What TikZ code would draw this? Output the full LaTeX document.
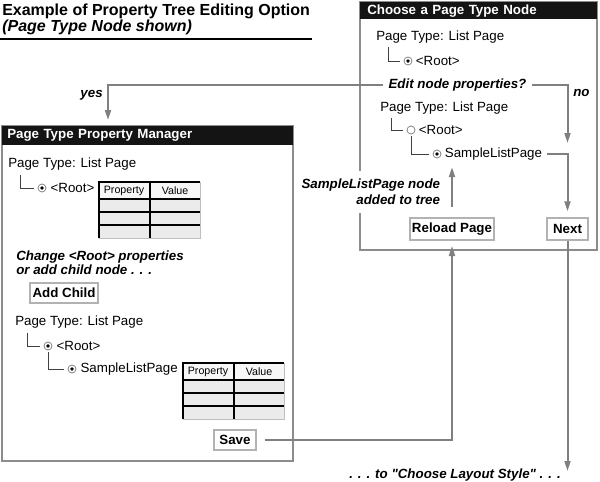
\documentclass[tikz,border=0pt]{standalone}
\usepackage{fontspec}
\setmainfont{Liberation Sans}
\usetikzlibrary{arrows.meta,positioning,calc}
\tikzstyle{panel} = [draw=black!45, line width=1.1pt]
\tikzstyle{header} = [rectangle, fill=black!92, text=white, font=\bfseries, anchor=north west, align=left, inner ysep=0pt]
\tikzstyle{txt} = [inner sep=0pt, anchor=base west]
\tikzstyle{note} = [inner sep=0pt, font=\bfseries\itshape]
\tikzstyle{button} = [rectangle, draw=black!30, line width=1pt, fill=white, font=\bfseries, inner sep=0pt]
\tikzstyle{radio} = [circle, draw=black!55, fill=white, line width=0.5pt, minimum size=6pt, inner sep=0pt]
\tikzstyle{radioon} = [radio, path picture={\fill[black] (path picture bounding box.center) circle (1.4pt);}]
\tikzstyle{tree} = [draw=black!75, line width=0.6pt, shorten >=3pt]
\tikzstyle{arrow} = [draw=black!50, line width=1.5pt, ->]
\tikzstyle{cell} = [draw=black!25, line width=0.5pt]
\tikzstyle{celltext} = [inner sep=0pt, font=\fontsize{8}{8}\selectfont]

\newcommand{\proptable}[2]{%
  \begin{scope}[shift={#2}]
    \foreach \ry/\rh/\rf in {0/17/3,17/13/8,30/13/8,43/13/8} {
      \foreach \cx in {0,51} {
        \filldraw[cell, fill=black!\rf] (\cx,\ry) rectangle ++(50,\rh);
        \draw[line width=1.2pt] (\cx,\ry+\rh) |- (\cx+50,\ry);
      }
    }
    \node (#1prop) [celltext] at (25,9) {Property};
    \node (#1val) [celltext] at (76,9) {Value};
  \end{scope}}

\begin{document}
\begin{tikzpicture}[x=0.75pt, y=-0.75pt, >={Triangle[width=4.5pt,length=7.5pt]}]
        \useasboundingbox (0,0) rectangle (600,482);

        % Titulo
        \node (title) [txt, font=\fontsize{12}{12}\selectfont\bfseries] at (2,15) {Example of Property Tree Editing Option};
        \node (subtitle) [txt, font=\fontsize{12}{12}\selectfont\bfseries\itshape] at (2,31) {(Page Type Node shown)};
        \draw[line width=1.5pt] (0,39) -- (312,39);

        % Choose a Page Type Node
        \draw[panel] (360,2) rectangle (597,250);
        \node (choosehead) [header, text width=167.25pt, inner xsep=5.25pt, minimum height=12.75pt] at (360,2) {Choose a Page Type Node};
        \node (ptype1) [txt] at (376,40) {Page Type: List Page};
        \node (root1) [radioon] at (408,61) {};
        \node (root1txt) [txt, right=2.5pt of root1] {<Root>};
        \draw[tree] ([shift={(12,7)}]ptype1.base west) |- (root1.west);
        \node (editq) [note, anchor=base west, inner xsep=4pt] at (383,88) {Edit node properties?};
        \node (nolbl) [note, anchor=base west] at (573,96) {no};
        \node (ptype2) [txt] at (380,111) {Page Type: List Page};
        \node (root2) [radio] at (411,130) {};
        \node (root2txt) [txt, right=2.5pt of root2] {<Root>};
        \draw[tree] ([shift={(11,7)}]ptype2.base west) |- (root2.west);
        \node (sample1r) [radioon] at (437,154) {};
        \node (sample1) [txt, right=2.5pt of sample1r] {SampleListPage};
        \draw[tree, shorten <=1.5pt] (root2.south) |- (sample1r.west);
        \node (added) [note, anchor=north east, align=right, fill=white, inner xsep=2pt, inner ysep=6pt,
            font=\fontsize{10}{12}\selectfont\bfseries\itshape] at (443,171) {SampleListPage node\\added to tree};
        \node (reloadbtn) [button, minimum width=63pt, minimum height=16.5pt] at (452,229) {Reload Page};
        \node (nextbtn) [button, minimum width=30.75pt, minimum height=16.5pt] at (567.5,229) {Next};

        % Page Type Property Manager
        \draw[panel] (2,126) rectangle (293,461);
        \node (mgrhead) [header, text width=210.75pt, inner xsep=3.75pt, minimum height=14.25pt] at (2,126) {Page Type Property Manager};
        \node (yeslbl) [note, anchor=base east] at (103,97) {yes};
        \node (ptype3) [txt] at (8,167) {Page Type: List Page};
        \node (root3) [radioon] at (42,188) {};
        \node (root3txt) [txt, right=3pt of root3] {<Root>};
        \draw[tree] ([shift={(12,8)}]ptype3.base west) |- (root3.west);
        \proptable{tablea}{(99,182)}
        \node (change) [note, anchor=north west, align=left, font=\fontsize{10}{10.5}\selectfont\bfseries\itshape] at (16,251) {Change <Root> properties\\or add child node . . .};
        \node (addchild) [button, minimum width=51pt, minimum height=15pt] at (64,293) {Add Child};
        \node (ptype4) [txt] at (15,325) {Page Type: List Page};
        \node (root4) [radioon] at (48,346) {};
        \node (root4txt) [txt, right=3pt of root4] {<Root>};
        \draw[tree] ([shift={(12,8)}]ptype4.base west) |- (root4.west);
        \node (sample2r) [radioon] at (72,369) {};
        \node (sample2) [txt, right=3pt of sample2r] {SampleListPage};
        \draw[tree, shorten <=1.5pt] (root4.south) |- (sample2r.west);
        \proptable{tableb}{(183,363)}
        \node (savebtn) [button, minimum width=31.5pt, minimum height=15pt] at (235,440) {Save};

        \node (layout) [note, anchor=base east] at (561,478) {. . . to \textquotedbl Choose Layout Style\textquotedbl{} . . .};

        % Linhas
        \coordinate (yesend) at (108,120);
        \coordinate (noend) at (567.5,143);
        \coordinate (layoutend) at (567.5,471);
        \draw[arrow] (editq.west) -| (yesend);
        \draw[arrow] (editq.east) -| (noend);
        \draw[arrow, shorten <=3.5pt, shorten >=4.5pt] (sample1.east) -| (nextbtn.north);
        \draw[arrow] (nextbtn.south) -- (layoutend);
        \draw[arrow, shorten <=6pt, shorten >=4pt] (savebtn.east) -| (reloadbtn.south);
        \draw[arrow, shorten <=7.5pt, shorten >=5pt] (reloadbtn.north) -- (reloadbtn.north |- sample1.south);
    \end{tikzpicture}
\end{document}
